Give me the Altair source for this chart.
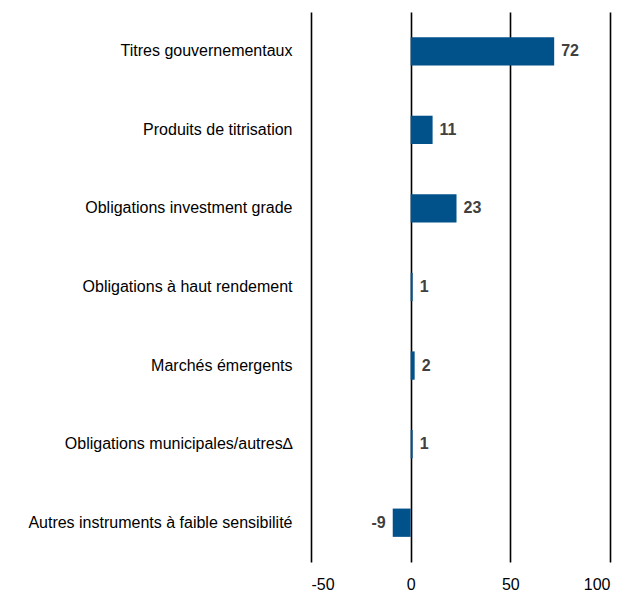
import altair as alt
import pandas as pd

categories = [
    "Titres gouvernementaux",
    "Produits de titrisation",
    "Obligations investment grade",
    "Obligations à haut rendement",
    "Marchés émergents",
    "Obligations municipales/autres∆",
    "Autres instruments à faible sensibilité",
]
values = [72, 11, 23, 1, 2, 1, -9]
x_ticks = [-50, 0, 50, 100]

df = pd.DataFrame({"cat": categories, "val": values})
df["lab"] = df["val"].astype(str)

FONT = "Liberation Sans"

y_enc = alt.Y(
    "cat:N",
    sort=categories,
    title=None,
    scale=alt.Scale(paddingInner=0.64, paddingOuter=0.32),
    axis=alt.Axis(
        domain=False, ticks=False, grid=False, labelPadding=19,
        labelFont=FONT, labelFontSize=16, labelColor="#000000", labelLimit=400,
    ),
)
x_enc = alt.X(
    "val:Q",
    title=None,
    scale=alt.Scale(domain=[-50, 100], nice=False),
    axis=alt.Axis(
        values=x_ticks, domain=False, ticks=False, grid=True,
        gridColor="#000000", gridWidth=1.6, gridOpacity=1,
        labelExpr="'' + datum.value",
        labelFont=FONT, labelFontSize=16, labelColor="#000000", labelPadding=14,
    ),
)

bars = alt.Chart(df).mark_bar(color="#01518a").encode(x=x_enc, y=y_enc, x2=alt.datum(0))

pos = alt.Chart(df).transform_filter("datum.val >= 0").mark_text(
    align="left", dx=7, font=FONT, fontSize=16, fontWeight="bold", color="#404040"
).encode(x="val:Q", y=alt.Y("cat:N", sort=categories), text="lab:N")

neg = alt.Chart(df).transform_filter("datum.val < 0").mark_text(
    align="right", dx=-7, font=FONT, fontSize=16, fontWeight="bold", color="#404040"
).encode(x="val:Q", y=alt.Y("cat:N", sort=categories), text="lab:N")

chart = (bars + pos + neg).properties(
    width=299, height=550,
    autosize=alt.AutoSizeParams(type="none"),
    padding={"left": 303, "top": 4, "right": 14, "bottom": 30},
).configure_view(stroke=None)

chart.save("out.html", embed_options={"renderer": "svg", "actions": False})
